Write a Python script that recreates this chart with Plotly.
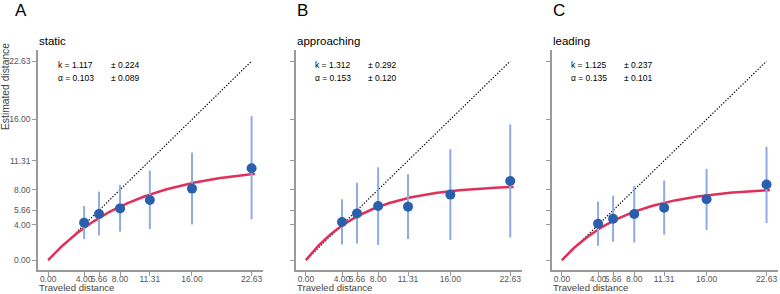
import numpy as np
import plotly.graph_objects as go

W, H = 780, 294

# ---- data ----
dist = [4.00, 5.66, 8.00, 11.31, 16.00, 22.63]
tick_vals = [0.00, 4.00, 5.66, 8.00, 11.31, 16.00, 22.63]
tick_text = ["0.00", "4.00", "5.66", "8.00", "11.31", "16.00", "22.63"]

panel_letters = ["A", "B", "C"]
conditions = ["static", "approaching", "leading"]

static_mean = [4.25, 5.25, 5.88, 6.84, 8.13, 10.44]
static_upper = [6.16, 7.79, 8.55, 10.18, 12.23, 16.37]
static_lower = [2.39, 2.80, 3.23, 3.53, 4.06, 4.63]

approaching_mean = [4.33, 5.31, 6.16, 6.08, 7.45, 9.00]
approaching_upper = [6.91, 8.81, 10.56, 9.76, 12.61, 15.43]
approaching_lower = [1.78, 1.89, 1.71, 2.39, 2.28, 2.58]

leading_mean = [4.14, 4.71, 5.25, 5.96, 6.91, 8.59]
leading_upper = [6.65, 7.33, 8.44, 9.04, 10.38, 12.88]
leading_lower = [1.63, 2.09, 2.00, 2.88, 3.42, 4.22]

k_vals = [1.117, 1.312, 1.125]
k_err = [0.224, 0.292, 0.237]
alpha_vals = [0.103, 0.153, 0.135]
alpha_err = [0.089, 0.120, 0.101]

means = [static_mean, approaching_mean, leading_mean]
uppers = [static_upper, approaching_upper, leading_upper]
lowers = [static_lower, approaching_lower, leading_lower]

# ---- layout geometry (pixels) ----
x_left_px = [38.0, 295.7, 551.7]
x_right_px = [263.0, 521.7, 778.0]
letter_px = [14.0, 296.0, 552.0]
y_top_px, y_bot_px = 50.0, 270.0

FONT = "Liberation Sans, Arial, Helvetica, sans-serif"
BLUE = "#2a5fae"
LIGHT = "#8fabe0"
RED = "#e0305a"
AXC = "#9a9a9a"

fig = go.Figure()
annotations = []

for i in range(3):
    sfx = "" if i == 0 else str(i + 1)
    xa, ya = "x" + sfx, "y" + sfx
    # identity dotted line
    fig.add_trace(go.Scatter(x=[0, tick_vals[-1]], y=[0, tick_vals[-1]], mode="lines",
                             line=dict(color="black", width=1.2, dash="1.3px,1.7px"),
                             xaxis=xa, yaxis=ya, showlegend=False, hoverinfo="skip"))
    # model curve
    xs = np.linspace(0, 23.0, 200)
    k, a = k_vals[i], alpha_vals[i]
    ys = k / a * (1 - np.exp(-a * xs))
    fig.add_trace(go.Scatter(x=xs, y=ys, mode="lines", line=dict(color=RED, width=2.5),
                             xaxis=xa, yaxis=ya, showlegend=False, hoverinfo="skip"))
    m = np.array(means[i]); u = np.array(uppers[i]); l = np.array(lowers[i])
    fig.add_trace(go.Scatter(x=dist, y=m, mode="markers",
                             marker=dict(color=BLUE, size=10),
                             error_y=dict(type="data", symmetric=False, array=u - m,
                                          arrayminus=m - l, color=LIGHT, thickness=2, width=0),
                             xaxis=xa, yaxis=ya, showlegend=False))

    axis_common = dict(showline=True, linecolor=AXC, linewidth=1.5, ticks="outside",
                       ticklen=4, tickwidth=1, tickcolor=AXC, showgrid=False, zeroline=False,
                       tickfont=dict(family=FONT, size=8.5, color="#555555"),
                       range=[-1.13, 23.9], tickmode="array", tickvals=tick_vals,
                       automargin=False, tickangle=0)
    fig.update_layout(**{
        "xaxis" + sfx: dict(axis_common, domain=[x_left_px[i] / W, x_right_px[i] / W],
                            anchor=ya, ticktext=tick_text, ticklabelstandoff=-4),
        "yaxis" + sfx: dict(axis_common, domain=[1 - y_bot_px / H, 1 - y_top_px / H],
                            anchor=xa, ticktext=tick_text if i == 0 else [""] * len(tick_vals)),
    })

    x0 = x_left_px[i]
    annotations += [
        dict(text=panel_letters[i], x=letter_px[i] / W, y=1 - 10.5 / H,
             xanchor="left", yanchor="middle", font=dict(family=FONT, size=17, color="black")),
        dict(text=conditions[i], x=x0 / W, y=1 - 41 / H, xanchor="left", yanchor="middle",
             font=dict(family=FONT, size=11.5, color="black")),
        dict(text=f"k = {k_vals[i]:.3f}", x=(x0 + 18.5) / W, y=1 - 65 / H, xanchor="left",
             yanchor="middle", font=dict(family=FONT, size=8.5, color="black")),
        dict(text=f"± {k_err[i]:.3f}", x=(x0 + 71.5) / W, y=1 - 65 / H, xanchor="left",
             yanchor="middle", font=dict(family=FONT, size=8.5, color="black")),
        dict(text=f"α = {alpha_vals[i]:.3f}", x=(x0 + 18.5) / W, y=1 - 78 / H, xanchor="left",
             yanchor="middle", font=dict(family=FONT, size=8.5, color="black")),
        dict(text=f"± {alpha_err[i]:.3f}", x=(x0 + 71.5) / W, y=1 - 78 / H, xanchor="left",
             yanchor="middle", font=dict(family=FONT, size=8.5, color="black")),
        dict(text="Traveled distance", x=x0 / W, y=0.0, xanchor="left",
             yanchor="bottom", font=dict(family=FONT, size=9.6, color="#444444")),
    ]

annotations.append(dict(text="Estimated distance", x=5 / W, y=1 - 87 / H, textangle=-90,
                        xanchor="center", yanchor="middle",
                        font=dict(family=FONT, size=10.3, color="#444444")))
for an in annotations:
    an.update(xref="paper", yref="paper", showarrow=False, borderpad=0)

fig.update_layout(width=W, height=H, margin=dict(l=0, r=0, t=0, b=0),
                  paper_bgcolor="white", plot_bgcolor="white",
                  annotations=annotations, font=dict(family=FONT))
fig.write_html("out.html", config={"displayModeBar": False},
               post_script="document.body.style.margin='0';document.body.style.overflow='hidden';")
